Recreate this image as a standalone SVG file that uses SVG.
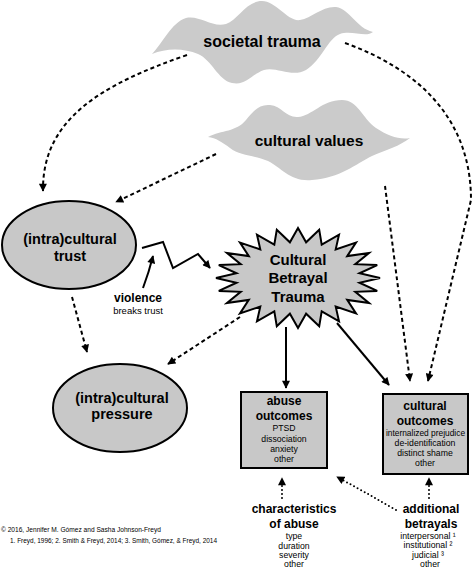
<svg xmlns="http://www.w3.org/2000/svg" width="474" height="569" viewBox="0 0 474 569">
<defs>
<marker id="ah" viewBox="0 0 10 10" refX="9" refY="5" markerWidth="9" markerHeight="8" markerUnits="userSpaceOnUse" orient="auto">
<path d="M0,0 L10,5 L0,10 Z" fill="#000" stroke="none"/>
</marker>
</defs>
<style>
text{font-family:"Liberation Sans",Arial,Helvetica,sans-serif;fill:#000;text-anchor:middle}
.b{font-weight:bold}
.t16{font-size:16px}
.t15{font-size:15px}
.t14{font-size:14.5px}
.t12{font-size:12px}
.s{font-size:8.7px}
.brk{font-size:9.5px}
.foot{font-size:6.6px;text-anchor:start}
.cloud{fill:#cbcbcb;stroke:none}
.node{fill:#c8c8c8;stroke:#000;stroke-width:2}
.dash{fill:none;stroke:#000;stroke-width:2;stroke-dasharray:4 3;marker-end:url(#ah)}
.dot{fill:none;stroke:#000;stroke-width:2;stroke-linecap:round;stroke-dasharray:0 4;marker-end:url(#ah)}
.solid{fill:none;stroke:#000;stroke-width:2;marker-end:url(#ah)}
</style>
<rect width="474" height="569" fill="#fff"/>

<g id="connectors">
<path class="dash" d="M187,55 C100,85 42,120 43,191"/>
<path class="dash" d="M216,154 L116,202"/>
<path class="dash" d="M345,43 C420,70 471,120 471,200 L428,381"/>
<path class="dash" d="M385,186 L410,381"/>
<path class="dash" d="M72,297 L87,352"/>
<path class="dash" d="M240,317 L168,364"/>
<path class="solid" d="M286,327 L286,388"/>
<path class="solid" d="M337,323 L389,385"/>
<polyline class="solid" points="142,248 163,242 173,268 198,254 210,268"/>
<path class="solid" d="M143,288 Q149,272 153,256"/>
<path class="dot" d="M282,498 L282,478"/>
<path class="dot" d="M396,510 Q365,492 337,477"/>
<path class="dot" d="M429,498 L429,478"/>
</g>

<g id="societal-trauma">
<path class="cloud" d="M152,54 C162,44 172,22 186,18 C200,15 212,28 226,24 C238,20 246,1 262,1 C276,1 288,22 300,20 C312,18 322,6 336,7 C350,9 356,28 373,32 C366,38 352,30 340,34 C328,38 322,60 306,70 C292,78 276,66 264,70 C252,74 246,86 232,83 C218,80 212,60 198,54 C184,48 166,48 152,54 Z"/>
<text class="b t16" x="262" y="47">societal trauma</text>
</g>

<g id="cultural-values">
<path class="cloud" d="M208,137 C222,130 236,132 246,120 C254,110 260,104 270,105 C282,106 286,118 298,117 C312,116 322,100 342,100 C358,100 362,118 376,128 C388,136 400,140 410,138 C400,146 386,150 372,156 C356,164 340,178 312,180 C290,182 282,168 268,161 C254,155 240,156 230,148 C222,142 216,138 208,137 Z"/>
<text class="b t15" x="309" y="146" style="font-size:15.5px">cultural values</text>
</g>

<g id="trust">
<ellipse class="node" cx="69" cy="245" rx="67" ry="44"/>
<text class="b t14" x="70" y="244">(intra)cultural</text>
<text class="b t14" x="70" y="261">trust</text>
</g>

<g id="violence">
<text class="b t12" x="138" y="302">violence</text>
<text class="brk" x="138" y="314">breaks trust</text>
</g>

<g id="cultural-betrayal-trauma">
<polygon class="node" points="380,278 359.5,282.7 377.2,290.9 355.3,291.8 369,303 347.2,299.9 356,313.4 335.7,306.6 339,321.3 321.7,311.3 319.2,326.3 306.1,313.7 298,328 289.9,313.7 276.8,326.3 274.3,311.3 257,321.3 260.3,306.6 240,313.4 248.8,299.9 227,303 240.7,291.8 218.8,290.9 236.5,282.7 216,278 236.5,273.3 218.8,265.1 240.7,264.2 227,253 248.8,256.1 240,242.6 260.3,249.4 257,234.7 274.3,244.7 276.8,229.7 289.9,242.3 298,228 306.1,242.3 319.2,229.7 321.7,244.7 339,234.7 335.7,249.4 356,242.6 347.2,256.1 369,253 355.3,264.2 377.2,265.1 359.5,273.3"/>
<text class="b t15" x="298" y="265">Cultural</text>
<text class="b t15" x="298" y="283">Betrayal</text>
<text class="b t15" x="298" y="302">Trauma</text>
</g>

<g id="pressure">
<ellipse class="node" cx="120" cy="408" rx="67" ry="44"/>
<text class="b t14" x="122" y="403">(intra)cultural</text>
<text class="b t14" x="122" y="419">pressure</text>
</g>

<g id="abuse-outcomes">
<rect class="node" x="241" y="392" width="86" height="76"/>
<text class="b t12" x="284" y="405">abuse</text>
<text class="b t12" x="284" y="420">outcomes</text>
<text class="s" x="284" y="431">PTSD</text>
<text class="s" x="284" y="441.5">dissociation</text>
<text class="s" x="284" y="452">anxiety</text>
<text class="s" x="284" y="462">other</text>
</g>

<g id="cultural-outcomes">
<rect class="node" x="383" y="394" width="85" height="80"/>
<text class="b t12" x="425" y="410">cultural</text>
<text class="b t12" x="425" y="425">outcomes</text>
<text class="s" x="425.5" y="436" style="font-size:8.4px">internalized prejudice</text>
<text class="s" x="425" y="446">de-identification</text>
<text class="s" x="425" y="456">distinct shame</text>
<text class="s" x="425" y="466">other</text>
</g>

<g id="characteristics">
<text class="b t12" x="294" y="513">characteristics</text>
<text class="b t12" x="294" y="528">of abuse</text>
<text class="s" x="294" y="539">type</text>
<text class="s" x="294" y="549">duration</text>
<text class="s" x="294" y="558">severity</text>
<text class="s" x="294" y="567">other</text>
</g>

<g id="additional-betrayals">
<text class="b t12" x="431" y="513">additional</text>
<text class="b t12" x="431" y="528">betrayals</text>
<text class="s" x="428" y="539">interpersonal ¹</text>
<text class="s" x="428" y="548">institutional ²</text>
<text class="s" x="428" y="557.5">judicial ³</text>
<text class="s" x="430" y="566.5">other</text>
</g>

<g id="footnotes">
<text class="foot" x="1" y="532">© 2016, Jennifer M. Gómez and Sasha Johnson-Freyd</text>
<text class="foot" x="10" y="543" textLength="207" lengthAdjust="spacingAndGlyphs">1. Freyd, 1996; 2. Smith &amp; Freyd, 2014; 3. Smith, Gómez, &amp; Freyd, 2014</text>
</g>
</svg>
